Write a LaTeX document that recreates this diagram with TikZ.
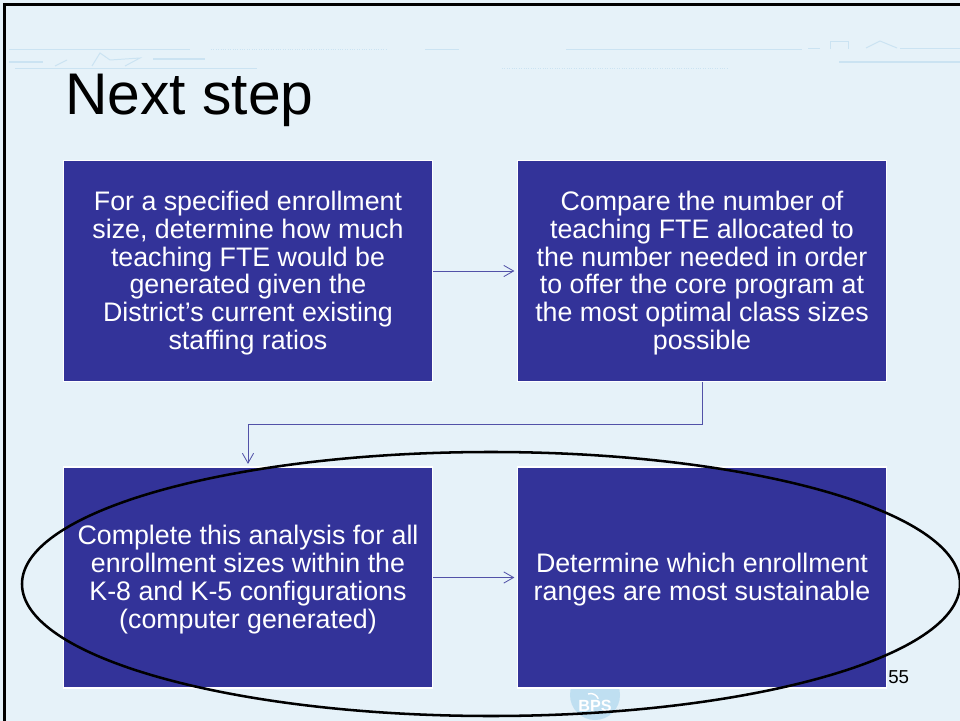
\documentclass[tikz,border=0pt]{standalone}
\usepackage{fontspec}
\setmainfont{Liberation Sans}
\usetikzlibrary{arrows.meta}
\definecolor{slidebg}{HTML}{E6F2F9}
\definecolor{boxblue}{HTML}{333399}
\definecolor{headerblue}{HTML}{CBE3F2}
\definecolor{logoblue}{HTML}{BFDFF1}
\newcommand{\firstline}{\rule{0pt}{16.8pt}}
\tikzset{
  stepbox/.style={draw=white,line width=1.4pt,fill=boxblue,text=white,
    minimum width=369*0.025cm,minimum height=221*0.025cm,inner sep=0pt,
    align=center,font=\fontsize{19.05pt}{19.8pt}\selectfont},
  stepline/.style={draw=boxblue!85,line width=0.6pt,shorten >=1.5pt,
    -{Straight Barb[length=7pt,width=8pt,line width=0.6pt]}},
  headerline/.style={draw=headerblue,line width=0.7pt}
}

\begin{document}
\begin{tikzpicture}[x=0.025cm,y=-0.025cm]

    \useasboundingbox (0,0) rectangle (960,721);
    \fill[slidebg] (0,0) rectangle (960,721);

    % Slide frame
    \draw[black,line width=1.5pt] (4.5,721) -- (4.5,4.5) -- (960,4.5);

    % Header
    \draw[headerline] (9,49) -- (190,49);
    \draw[headerline,densely dotted] (211,49) -- (386,49);
    \draw[headerline] (425,49) -- (459,49);
    \draw[headerline] (566,49) -- (802,49);
    \draw[headerline] (808,48) -- (820,48);
    \draw[headerline] (830,49) -- (830,41) -- (848,41) -- (848,49);
    \draw[headerline] (866,48) -- (880,41) -- (897,48);
    \draw[headerline] (900,48) -- (960,48);
    \draw[headerline,line width=1.2pt] (9,62) -- (43,62);
    \draw[headerline] (55,66) -- (67,60);
    \draw[headerline] (92,66) -- (100,53) -- (110,60) -- (140,58) -- (125,66);
    \draw[headerline,line width=1.2pt] (153,59) -- (205,59);
    \draw[headerline,line width=1.2pt] (839,62) -- (960,62);
    \draw[headerline] (15,68) -- (257,68);
    \draw[headerline,densely dotted] (502,68) -- (729,68);

    % Title
    \node[anchor=base west,inner sep=0pt,font=\fontsize{41.8pt}{44pt}\selectfont] (title) at (65,115) {Next step};

    % Logo
    \fill[logoblue] (595,695) circle[radius=25];
    \draw[white,line width=1pt] (588,694) arc[start angle=-110,end angle=-20,radius=8];
    \node[text=white,font=\bfseries\fontsize{11.5pt}{12pt}\selectfont,inner sep=0pt] (logo) at (595,706) {BPS};

    % Boxes
    \node[stepbox] (specify) at (248,271) {\firstline For a specified enrollment\\size, determine how much\\teaching FTE would be\\generated given the\\District’s current existing\\staffing ratios};
    \node[stepbox] (compare) at (702,271) {\firstline Compare the number of\\teaching FTE allocated to\\the number needed in order\\to offer the core program at\\the most optimal class sizes\\possible};
    \node[stepbox] (complete) at (248,577.5) {\firstline Complete this analysis for all\\enrollment sizes within the\\K-8 and K-5 configurations\\(computer generated)};
    \node[stepbox] (determine) at (702,577.5) {\firstline Determine which enrollment\\ranges are most sustainable};

    % Arrows
    \draw[stepline] (specify) -- (compare);
    \draw[stepline] (compare.south) -- ++(0,42) -| (complete.north);
    \draw[stepline] (complete) -- (determine);

    % Page number
    \node[anchor=base west,inner sep=0pt,font=\fontsize{13.3pt}{14pt}\selectfont] (pagenum) at (888,683) {55};

    % Ellipse
    \draw[black,line width=1.8pt] (491,584) ellipse[x radius=469,y radius=132];

\end{tikzpicture}
\end{document}
